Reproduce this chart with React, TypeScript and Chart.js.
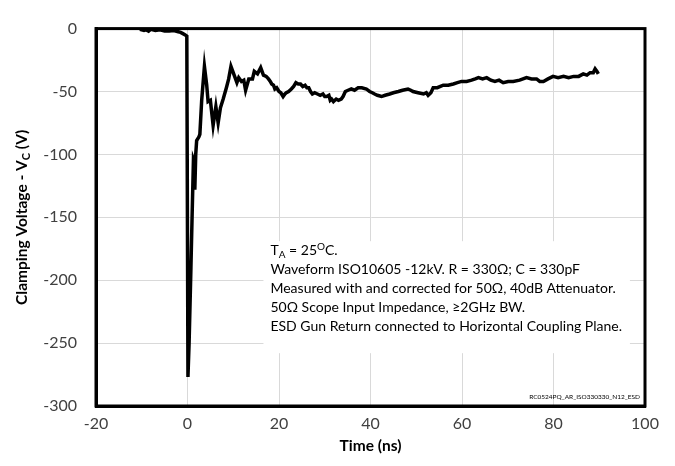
import React, { useEffect, useRef } from "react";
import { Chart, registerables } from "chart.js";

Chart.register(...registerables);

const timeNs: number[] = [
  -10.4, -9.5, -9, -8.5, -8, -7, -6, -5, -4, -3, -2, -1.5, -1, -0.5, -0.15, 0.1, 0.35, 0.75, 1.0, 1.3,
  1.4, 1.6, 1.8, 2.0, 2.5, 2.7, 3.1, 3.7, 4.2, 4.5, 5.0, 5.6, 6.2, 6.7, 7.2, 7.8, 8.5, 9.0,
  9.5, 9.8, 10.3, 10.8, 11.2, 11.8, 12.3, 12.7, 13.4, 14.2, 14.6, 15.3, 16.0, 16.6, 17.2,
  17.7, 18.1, 18.4, 18.8, 19.1, 19.5, 20.0, 20.4, 20.9, 21.3, 21.6, 22.1, 22.7, 23.2, 23.7,
  24.2, 24.7, 25.2, 25.7, 26.1, 26.5, 26.9, 27.3, 27.8, 28.4, 29.0, 29.6, 30.0, 30.4, 30.9,
  31.2, 31.5, 31.9, 32.5, 33.0, 33.6, 34.0, 34.5, 35.1, 35.8, 36.5, 37.3, 38.1, 39.1, 39.8,
  40.4, 40.9, 41.5, 42.4, 43.2, 44.2, 45.0, 46.1, 47.0, 48.2, 48.8, 49.3, 50.4, 51.6, 52.2,
  52.6, 53.2, 53.7, 54.6, 55.9, 57.0, 58.1, 59.0, 59.9, 61.0, 62.1, 62.9, 63.6, 64.5, 65.4,
  66.3, 67.2, 68.1, 69.0, 70.1, 71.2, 72.6, 74.1, 75.2, 76.3, 77.0, 77.8, 78.8, 79.9, 81.0,
  82.2, 83.3, 84.4, 85.5, 86.5, 87.3, 88.0, 88.7, 89.1, 89.5, 89.8,
];

const clampV: number[] = [
  -0.5, -1.5, -1, -2, -0.5, -1.5, -1, -2, -2, -1.5, -2.5, -3, -4, -5, -6, -277, -250, -190, -150, -104,
  -105, -128, -100, -89, -86, -84, -57, -30, -45, -58, -57, -77, -62, -75, -63, -56, -47, -40,
  -30, -33, -38, -43, -39, -42, -41, -49, -40, -40, -34, -36, -31, -37, -38,
  -40, -42, -44, -45, -48, -47, -50, -51, -54, -52, -51, -50, -48, -46, -43,
  -44, -44, -46, -45, -47, -47, -50, -52, -51, -52, -53, -52, -54, -54, -53,
  -57, -56, -58, -56, -57, -56, -54, -50, -49, -48, -49, -47, -47, -48, -50,
  -51, -52, -53, -54, -53, -52, -51, -50, -49, -48, -49, -50, -51, -52, -51,
  -53, -51, -47, -47, -45, -45, -44, -43, -42, -42, -41, -40, -39, -40, -39,
  -41, -42, -41, -43, -42, -42, -41, -39, -40, -40, -42, -42, -40, -38, -39,
  -38, -39, -38, -38, -36, -37, -35, -35, -32, -34, -36,
];

const xTicks: number[] = [-20, 0, 20, 40, 60, 80, 100];
const yTicks: number[] = [0, -50, -100, -150, -200, -250, -300];

const noteLines: string[] = [
  "Waveform ISO10605 -12kV. R = 330Ω; C = 330pF",
  "Measured with and corrected for 50Ω, 40dB Attenuator.",
  "50Ω Scope Input Impedance, ≥2GHz BW.",
  "ESD Gun Return connected to Horizontal Coupling Plane.",
];
const docId = "RC0524PQ_AR_ISO330330_N12_ESD";

const FONT = "Lato, 'Open Sans', sans-serif";

const decorPlugin = {
  id: "decor",
  beforeDatasetsDraw(chart: any) {
    const { ctx, chartArea: a, scales } = chart;
    const xs = scales.x;
    const ys = scales.y;
    ctx.save();
    const bx0 = xs.getPixelForValue(16.6);
    const bx1 = xs.getPixelForValue(96.7);
    const by0 = ys.getPixelForValue(-169);
    const by1 = ys.getPixelForValue(-258);
    ctx.fillStyle = "#ffffff";
    ctx.fillRect(bx0, by0, bx1 - bx0, by1 - by0);

    ctx.fillStyle = "#000000";
    ctx.textBaseline = "alphabetic";
    ctx.textAlign = "left";
    const tx = bx0 + 7;
    let ty = by0 + 14;
    ctx.font = `14px ${FONT}`;
    let cx = tx;
    ctx.fillText("T", cx, ty);
    cx += ctx.measureText("T").width;
    ctx.font = `10px ${FONT}`;
    ctx.fillText("A", cx, ty + 3);
    cx += ctx.measureText("A").width;
    ctx.font = `14px ${FONT}`;
    ctx.fillText(" = 25", cx, ty);
    cx += ctx.measureText(" = 25").width;
    ctx.font = `10px ${FONT}`;
    ctx.fillText("O", cx, ty - 5);
    cx += ctx.measureText("O").width;
    ctx.font = `14px ${FONT}`;
    ctx.fillText("C.", cx, ty);
    for (const line of noteLines) {
      ty += 19;
      ctx.fillText(line, tx, ty);
    }
    ctx.font = `6.5px ${FONT}`;
    ctx.textAlign = "right";
    ctx.fillText(docId, a.right - 5, a.bottom - 7);

    ctx.strokeStyle = "#000000";
    ctx.lineWidth = 3;
    ctx.strokeRect(a.left, a.top, a.right - a.left, a.bottom - a.top);
    ctx.restore();
  },
  afterDraw(chart: any) {
    const { ctx, chartArea: a } = chart;
    ctx.save();
    ctx.fillStyle = "#000000";
    ctx.font = `bold 15.5px ${FONT}`;
    ctx.textAlign = "center";
    ctx.textBaseline = "middle";
    ctx.fillText("Time (ns)", (a.left + a.right) / 2, 446);
    ctx.translate(22, (a.top + a.bottom) / 2);
    ctx.rotate(-Math.PI / 2);
    const p1 = "Clamping Voltage - V";
    const p2 = "C";
    const p3 = " (V)";
    ctx.font = `bold 15.5px ${FONT}`;
    const w1 = ctx.measureText(p1).width;
    const w3 = ctx.measureText(p3).width;
    ctx.font = `bold 11px ${FONT}`;
    const w2 = ctx.measureText(p2).width;
    const total = w1 + w2 + w3;
    let x = -total / 2;
    ctx.textAlign = "left";
    ctx.textBaseline = "alphabetic";
    ctx.font = `bold 15.5px ${FONT}`;
    ctx.fillText(p1, x, 5);
    x += w1;
    ctx.font = `bold 11px ${FONT}`;
    ctx.fillText(p2, x, 8);
    x += w2;
    ctx.font = `bold 15.5px ${FONT}`;
    ctx.fillText(p3, x, 5);
    ctx.restore();
  },
};

export default function App() {
  const ref = useRef<HTMLCanvasElement | null>(null);
  useEffect(() => {
    if (!ref.current) return;
    const chart = new Chart(ref.current, {
      type: "line",
      data: {
        datasets: [
          {
            data: timeNs.map((t, i) => ({ x: t, y: clampV[i] })),
            borderColor: "#000000",
            borderWidth: 3.5,
            pointRadius: 0,
            tension: 0,
            fill: false,
          },
        ],
      },
      options: {
        responsive: false,
        animation: false,
        layout: { padding: { left: 0, top: 14, right: 30, bottom: 0 } },
        plugins: { legend: { display: false }, tooltip: { enabled: false } },
        scales: {
          x: {
            type: "linear",
            min: -20,
            max: 100,
            afterBuildTicks: (s: any) => {
              s.ticks = xTicks.map((v) => ({ value: v }));
            },
            afterFit: (s: any) => {
              s.height = 60;
            },
            grid: { color: "#d9d9d9", lineWidth: 1, tickLength: 0 },
            border: { color: "#000000", width: 3 },
            ticks: {
              color: "#404040",
              font: { family: FONT, size: 16 },
              padding: 8,
              maxRotation: 0,
            },
          },
          y: {
            type: "linear",
            min: -300,
            max: 0,
            afterBuildTicks: (s: any) => {
              s.ticks = yTicks.map((v) => ({ value: v }));
            },
            afterFit: (s: any) => {
              s.width = 96;
            },
            grid: { color: "#d9d9d9", lineWidth: 1, tickLength: 0 },
            border: { color: "#000000", width: 3 },
            ticks: {
              color: "#404040",
              font: { family: FONT, size: 16 },
              padding: 19,
            },
          },
        },
      },
      plugins: [decorPlugin],
    });
    return () => chart.destroy();
  }, []);
  return (
    <div style={{ position: "fixed", left: 0, top: 0, width: 675, height: 466, background: "#fff" }}>
      <canvas ref={ref} width={675} height={466} style={{ display: "block" }} />
    </div>
  );
}
